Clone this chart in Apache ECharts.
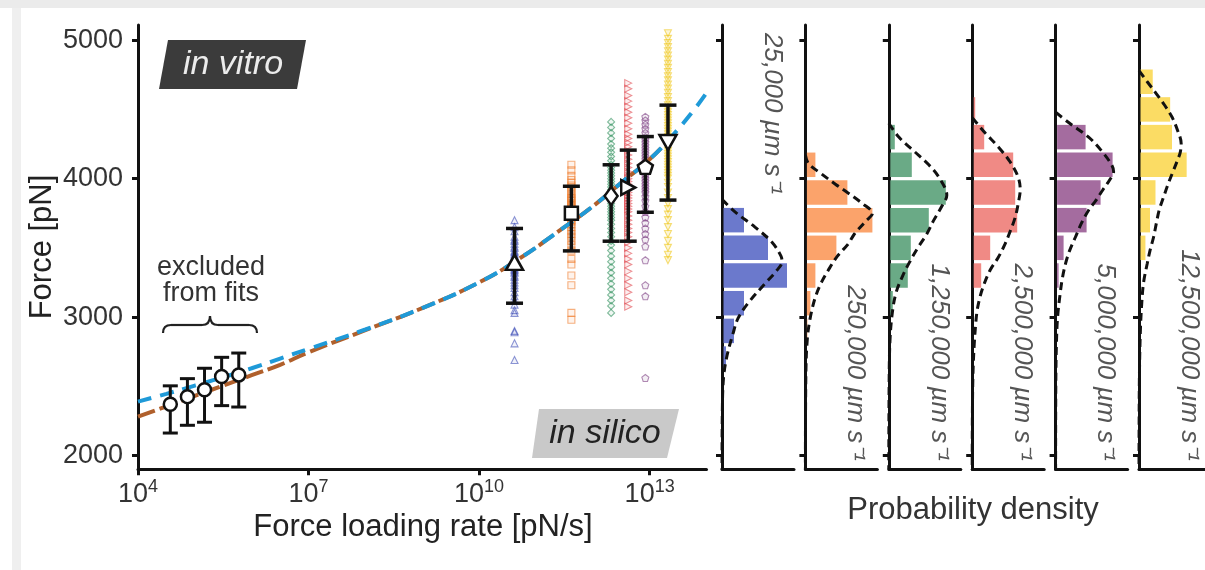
<!DOCTYPE html>
<html>
<head>
<meta charset="utf-8">
<script src="https://cdn.jsdelivr.net/npm/echarts@6/dist/echarts.min.js"></script>
<style>
  html, body { margin: 0; padding: 0; background: #fff; }
  #chart { width: 1205px; height: 570px; }
</style>
</head>
<body>
<div id="chart"></div>
<script>
// ---------- data ----------
const speedLabels = ['25,000 µm s⁻¹', '250,000 µm s⁻¹', '1,250,000 µm s⁻¹',
                     '2,500,000 µm s⁻¹', '5,000,000 µm s⁻¹', '12,500,000 µm s⁻¹'];

// in silico: loading rate [pN/s], mean force and error-bar limits [pN]
const siliconRates = [4.2e10, 4.2e11, 2.1e12, 4.2e12, 8.4e12, 2.1e13];
const siliconMean  = [3395, 3750, 3875, 3936, 4085, 4261];
const siliconLow   = [3100, 3478, 3548, 3548, 3757, 3845];
const siliconHigh  = [3640, 3945, 4100, 4206, 4304, 4531];

// in vitro (excluded from fits)
const vitroRates = [3.7e4, 7.4e4, 1.48e5, 2.96e5, 5.92e5];
const vitroMean  = [2370, 2425, 2475, 2570, 2582];
const vitroLow   = [2162, 2218, 2240, 2360, 2350];
const vitroHigh  = [2503, 2555, 2630, 2709, 2740];

// individual rupture forces [pN] per pulling speed
const forces25k = [3700, 3650, 3620, 3580, 3560, 3550, 3530, 3510, 3500, 3480, 3470, 3460, 3450,
  3440, 3430, 3420, 3400, 3390, 3380, 3370, 3360, 3350, 3340, 3330, 3320, 3300, 3290, 3270,
  3250, 3230, 3210, 3180, 3150, 3120, 3090, 3050, 3030, 2900, 2890, 2810, 2690];
const forces250k = [4100, 4060, 4020, 3990, 3970, 3950, 3930, 3910, 3890, 3870, 3860, 3850, 3840,
  3820, 3810, 3800, 3790, 3780, 3770, 3760, 3750, 3740, 3730, 3720, 3700, 3690, 3670, 3650,
  3620, 3600, 3580, 3550, 3520, 3480, 3420, 3380, 3300, 3230, 3030, 2980];
const forces1250k = [4410, 4370, 4330, 4290, 4250, 4220, 4190, 4160, 4130, 4100, 4080, 4060, 4040,
  4020, 4000, 3980, 3960, 3940, 3920, 3900, 3880, 3860, 3840, 3820, 3800, 3780, 3760, 3740,
  3720, 3700, 3670, 3640, 3610, 3580, 3550, 3520, 3480, 3440, 3400, 3360, 3320, 3280, 3240,
  3200, 3160, 3120, 3080, 3030];
const forces2500k = [4690, 4650, 4600, 4560, 4520, 4480, 4440, 4400, 4360, 4320, 4290, 4260, 4230,
  4200, 4170, 4140, 4110, 4080, 4050, 4020, 4000, 3980, 3960, 3940, 3920, 3900, 3880, 3860,
  3840, 3820, 3800, 3780, 3760, 3730, 3700, 3670, 3640, 3610, 3580, 3540, 3500, 3460, 3420,
  3380, 3330, 3280, 3230, 3180, 3120, 3075];
const forces5000k = [4446, 4420, 4390, 4360, 4330, 4300, 4280, 4260, 4240, 4220, 4200, 4180, 4160,
  4140, 4120, 4100, 4080, 4060, 4040, 4020, 4000, 3980, 3960, 3940, 3920, 3900, 3870, 3840,
  3800, 3760, 3720, 3680, 3640, 3600, 3560, 3510, 3410, 3230, 3150, 2560];
const forces12500k = [5050, 5010, 4980, 4950, 4920, 4890, 4860, 4830, 4800, 4770, 4740, 4710, 4680,
  4650, 4620, 4590, 4560, 4530, 4500, 4480, 4460, 4440, 4420, 4400, 4380, 4360, 4340, 4320,
  4300, 4280, 4260, 4240, 4220, 4200, 4180, 4160, 4140, 4120, 4100, 4080, 4060, 4040, 4020,
  4000, 3970, 3940, 3900, 3860, 3820, 3780, 3740, 3700, 3650, 3600, 3550, 3500, 3450, 3411];
const forceGroups = [forces25k, forces250k, forces1250k, forces2500k, forces5000k, forces12500k];

// model fits: loading rate [pN/s] and force [pN]
const fitRates = [1e4, 3.16e4, 1e5, 3.16e5, 1e6, 3.16e6, 1e7, 1e8, 1e9, 1e10, 5e10, 3.16e11,
                  1e12, 3.16e12, 1e13, 2.5e13, 5.6e13, 1e14];
const fitBlueForce  = [2389, 2445, 2505, 2565, 2630, 2700, 2770, 2910, 3065, 3250, 3420, 3650,
                       3800, 3970, 4140, 4310, 4480, 4620];
const fitBrownForce = [2280, 2355, 2430, 2505, 2580, 2655, 2745, 2905, 3065, 3250, 3420, 3650,
                       3800, 3970, 4140, 4310];

// histograms: lower bin edges [pN], bin width 200 pN, densities (arb. units)
const binLower = [2600, 2800, 3000, 3200, 3400, 3600, 3800, 4000, 4200, 4400, 4600];
const binWidth = 200;
const hist25k    = [4, 12, 22, 65, 46, 22, 0, 0, 0, 0, 0];
const hist250k   = [0, 2, 5, 10, 31, 67, 42, 10, 0, 0, 0];
const hist1250k  = [0, 0, 4, 19, 22, 40, 57, 23, 6, 0, 0];
const hist2500k  = [0, 0, 0, 9, 18, 45, 43, 41, 12, 3, 0];
const hist5000k  = [0, 0, 0, 3, 8, 31, 45, 57, 30, 0, 0];
const hist12500k = [0, 0, 0, 0, 7, 12, 18, 52, 36, 34, 15];
const histGroups = [hist25k, hist250k, hist1250k, hist2500k, hist5000k, hist12500k];

// fitted distributions: [force, density] pairs
const dens25k = [[3850,0],[3760,13],[3650,33],[3540,50],[3440,59],[3400,60],[3330,54],[3250,44],
  [3100,26],[2990,16],[2880,11],[2720,5],[2560,1.5],[2300,0.3],[1900,0]];
const dens250k = [[4170,0],[4110,3],[4040,15],[3960,30],[3900,42],[3820,57],[3750,67],[3690,60],
  [3600,49],[3530,43],[3440,32],[3340,23],[3250,16],[3145,10],[3000,5],[2850,2],[2600,0.5],[1900,0]];
const dens1250k = [[4400,0],[4300,10],[4200,25],[4100,40],[4000,51],[3880,58],[3800,53],[3700,45],
  [3600,38],[3500,29],[3400,21],[3300,14],[3170,7],[3000,3],[2800,1],[2500,0.3],[1900,0]];
const dens2500k = [[4440,0],[4330,13],[4230,26],[4120,38],[4010,46],[3920,48],[3820,46],[3720,43],
  [3620,38],[3530,33],[3430,26],[3340,18],[3240,12],[3150,8],[3050,5],[2950,3.5],[2800,2],
  [2600,0.8],[2300,0.2],[1900,0]];
const dens5000k = [[4480,0],[4400,14],[4300,33],[4200,46],[4100,56],[4050,58],[3990,54],[3916,47],
  [3840,40],[3772,33],[3680,26],[3580,20],[3480,14],[3388,10],[3290,7],[3195,5],[3000,2],
  [2800,0.8],[2500,0.2],[1900,0]];
const dens12500k = [[4780,0],[4700,9],[4613,19],[4530,28],[4445,36],[4350,42],[4254,46],[4190,45],
  [4133,42],[4050,37],[3965,32],[3870,27],[3772,22],[3680,19],[3580,16],[3480,12],[3387,9],
  [3250,5],[3100,3],[2900,1.5],[2600,0.5],[2200,0.1],[1900,0]];
const densGroups = [dens25k, dens250k, dens1250k, dens2500k, dens5000k, dens12500k];

const forceTicks = [2000, 3000, 4000, 5000];
const rateTicks = [1e4, 1e7, 1e10, 1e13];

// ---------- styling ----------
const FONT = 'Liberation Sans, Arial, Helvetica, sans-serif';
const INK = '#111';
const pointColors = ['#3f4fb8', '#f07f2e', '#2f8f5b', '#e0474f', '#7d3d82', '#f0c81e'];
const pointFills = ['rgba(63,79,184,0.12)', 'rgba(240,127,46,0.15)', 'rgba(47,143,91,0.12)',
                    'rgba(224,71,79,0.15)', 'rgba(125,61,130,0.15)', 'rgba(240,200,30,0.3)'];
const barColors = ['#6b79cc', '#fba36b', '#6aaa86', '#f08a85', '#a46c9f', '#fbdc64'];
const pentagon = 'path://M0,-10 L9.51,-3.09 L5.88,8.09 L-5.88,8.09 L-9.51,-3.09 Z';
const markerShapes = [
  { symbol: 'triangle', size: [17, 15], rotate: 0 },
  { symbol: 'rect', size: [13, 13], rotate: 0 },
  { symbol: 'diamond', size: [13, 18], rotate: 0 },
  { symbol: 'triangle', size: [15, 14], rotate: -90 },
  { symbol: pentagon, size: [15, 14], rotate: 0 },
  { symbol: 'triangle', size: [17, 15], rotate: 180 }
];

const F_MIN = 1900, F_MAX = 5110;
const GRID_TOP = 25, GRID_BOTTOM = 100.7;
const PANEL_X0 = 722, PANEL_STEP = 83.4, PANEL_W = 72;

// ---------- helpers ----------
function errorBars(capHalf, lineW) {
  return function (params, api) {
    const x = api.value(0);
    const top = api.coord([x, api.value(2)]);
    const bot = api.coord([x, api.value(1)]);
    const style = { stroke: INK, lineWidth: lineW };
    return {
      type: 'group',
      children: [
        { type: 'line', shape: { x1: top[0], y1: top[1], x2: bot[0], y2: bot[1] }, style },
        { type: 'line', shape: { x1: top[0] - capHalf, y1: top[1], x2: top[0] + capHalf, y2: top[1] }, style },
        { type: 'line', shape: { x1: bot[0] - capHalf, y1: bot[1], x2: bot[0] + capHalf, y2: bot[1] }, style }
      ]
    };
  };
}

function histBar(params, api) {
  const lo = api.value(0), hi = api.value(1), len = api.value(2);
  if (!len) return null;
  const a = api.coord([0, hi]);
  const b = api.coord([len, lo]);
  return {
    type: 'rect',
    shape: { x: a[0] + 1.5, y: a[1] + 1.6, width: b[0] - a[0] - 1.5, height: b[1] - a[1] - 3.2 },
    style: { fill: api.visual('color') }
  };
}

// ---------- grids and axes ----------
const grids = [{ left: 138, right: 1205 - 706.5, top: GRID_TOP, bottom: GRID_BOTTOM }];
const xAxes = [{
  type: 'log', logBase: 10, min: 1e4, max: 1e14, gridIndex: 0,
  axisLine: { lineStyle: { color: INK, width: 3 } },
  axisTick: { customValues: rateTicks, length: 6, lineStyle: { color: INK, width: 3 } },
  axisLabel: {
    customValues: rateTicks, margin: 9,
    formatter: v => '{b|10}{s|' + Math.round(Math.log10(v)) + '}',
    rich: {
      b: { fontFamily: FONT, fontSize: 27, color: '#333', lineHeight: 32 },
      s: { fontFamily: FONT, fontSize: 18, color: '#333', verticalAlign: 'top', lineHeight: 18 }
    }
  },
  splitLine: { show: false }, minorTick: { show: false }
}];
const yAxes = [{
  type: 'value', min: F_MIN, max: F_MAX, gridIndex: 0,
  axisLine: { show: true, lineStyle: { color: INK, width: 3 } },
  axisTick: { show: true, customValues: forceTicks, length: 6, lineStyle: { color: INK, width: 3 } },
  axisLabel: { customValues: forceTicks, margin: 15, fontFamily: FONT, fontSize: 27, color: '#333',
               formatter: v => String(v) },
  splitLine: { show: false }
}];

for (let i = 0; i < 6; i++) {
  const left = PANEL_X0 + i * PANEL_STEP;
  grids.push({ left: left, width: PANEL_W, top: GRID_TOP, bottom: GRID_BOTTOM });
  xAxes.push({
    type: 'value', min: 0, max: 72, gridIndex: i + 1,
    axisLine: { show: true, lineStyle: { color: INK, width: 3 } },
    axisTick: { show: false }, axisLabel: { show: false }, splitLine: { show: false }
  });
  yAxes.push({
    type: 'value', min: F_MIN, max: F_MAX, gridIndex: i + 1,
    axisLine: { show: true, lineStyle: { color: INK, width: 3 } },
    axisTick: { show: true, customValues: forceTicks, length: 6, lineStyle: { color: INK, width: 3 } },
    axisLabel: { show: false }, splitLine: { show: false }
  });
}

// ---------- series ----------
const series = [];

// individual rupture events
forceGroups.forEach((forces, i) => {
  series.push({
    type: 'scatter', xAxisIndex: 0, yAxisIndex: 0, z: 2,
    symbol: markerShapes[i].symbol, symbolSize: 7, symbolRotate: markerShapes[i].rotate,
    itemStyle: { color: pointFills[i], borderColor: pointColors[i], borderWidth: 1.1, opacity: 0.6 },
    data: forces.map(f => [siliconRates[i], f]),
    silent: true
  });
});

// fitted loading-rate dependence
series.push({
  type: 'line', xAxisIndex: 0, yAxisIndex: 0, z: 3, smooth: true, symbol: 'none',
  lineStyle: { color: '#b0602c', width: 4, type: [18, 5] },
  data: fitBrownForce.map((f, i) => [fitRates[i], f])
});
series.push({
  type: 'line', xAxisIndex: 0, yAxisIndex: 0, z: 3, smooth: true, symbol: 'none',
  lineStyle: { color: '#1f9ad8', width: 4, type: [14, 9] },
  data: fitBlueForce.map((f, i) => [fitRates[i], f])
});

// error bars
series.push({
  type: 'custom', xAxisIndex: 0, yAxisIndex: 0, z: 4,
  renderItem: errorBars(7.5, 3),
  encode: { x: 0, y: [1, 2] },
  data: vitroRates.map((r, i) => [r, vitroLow[i], vitroHigh[i]])
});
series.push({
  type: 'custom', xAxisIndex: 0, yAxisIndex: 0, z: 4,
  renderItem: errorBars(8.5, 3.5),
  encode: { x: 0, y: [1, 2] },
  data: siliconRates.map((r, i) => [r, siliconLow[i], siliconHigh[i]])
});

// means
series.push({
  type: 'scatter', xAxisIndex: 0, yAxisIndex: 0, z: 5,
  symbol: 'circle', symbolSize: 13,
  itemStyle: { color: '#fff', borderColor: INK, borderWidth: 2.5, opacity: 1 },
  data: vitroRates.map((r, i) => [r, vitroMean[i]])
});
series.push({
  type: 'scatter', xAxisIndex: 0, yAxisIndex: 0, z: 5,
  itemStyle: { color: '#fff', borderColor: INK, borderWidth: 2.5, opacity: 1 },
  data: siliconRates.map((r, i) => ({
    value: [r, siliconMean[i]],
    symbol: markerShapes[i].symbol,
    symbolSize: markerShapes[i].size,
    symbolRotate: markerShapes[i].rotate
  }))
});

// histograms with fitted densities
histGroups.forEach((hist, i) => {
  series.push({
    type: 'custom', xAxisIndex: i + 1, yAxisIndex: i + 1, z: 2,
    renderItem: histBar,
    itemStyle: { color: barColors[i] },
    encode: { x: 2, y: [0, 1] },
    data: hist.map((d, k) => [binLower[k], binLower[k] + binWidth, d])
  });
  series.push({
    type: 'line', xAxisIndex: i + 1, yAxisIndex: i + 1, z: 3, smooth: 0.35, symbol: 'none',
    lineStyle: { color: INK, width: 3, type: [8, 5] },
    data: densGroups[i].map(p => [p[1], p[0]])
  });
});

// ---------- texts and annotations ----------
const textBase = { fontFamily: FONT };
const braceStyle = { fill: 'none', stroke: '#222', lineWidth: 2.2 };
const graphic = [
  { type: 'rect', z: -10, shape: { x: 0, y: 0, width: 1205, height: 8 }, style: { fill: '#ebebeb' } },
  { type: 'rect', z: -10, shape: { x: 12, y: 8, width: 9, height: 562 }, style: { fill: '#efefef' } },
  { type: 'polygon', shape: { points: [[168, 40], [306, 40], [297, 89], [159, 89]] }, style: { fill: '#3b3b3b' } },
  { type: 'text', x: 233, y: 65, style: Object.assign({}, textBase, { text: 'in vitro', fontSize: 34, fontStyle: 'italic', fill: '#ececec', align: 'center', verticalAlign: 'middle' }) },
  { type: 'polygon', shape: { points: [[539, 409], [679, 409], [667, 458], [532, 458]] }, style: { fill: '#c9c9c9' } },
  { type: 'text', x: 605, y: 434, style: Object.assign({}, textBase, { text: 'in silico', fontSize: 34, fontStyle: 'italic', fill: '#222', align: 'center', verticalAlign: 'middle' }) },
  { type: 'text', x: 211, y: 268, style: Object.assign({}, textBase, { text: 'excluded', fontSize: 27, fill: '#333', align: 'center', verticalAlign: 'middle' }) },
  { type: 'text', x: 211, y: 294, style: Object.assign({}, textBase, { text: 'from fits', fontSize: 27, fill: '#333', align: 'center', verticalAlign: 'middle' }) },
  // curly brace over the excluded points
  { type: 'bezierCurve', shape: { x1: 163, y1: 333, cpx1: 163, cpy1: 325, x2: 171, y2: 325 }, style: braceStyle },
  { type: 'line', shape: { x1: 171, y1: 325, x2: 202, y2: 325 }, style: braceStyle },
  { type: 'bezierCurve', shape: { x1: 202, y1: 325, cpx1: 210, cpy1: 325, x2: 210, y2: 316 }, style: braceStyle },
  { type: 'bezierCurve', shape: { x1: 210, y1: 316, cpx1: 210, cpy1: 325, x2: 218, y2: 325 }, style: braceStyle },
  { type: 'line', shape: { x1: 218, y1: 325, x2: 249, y2: 325 }, style: braceStyle },
  { type: 'bezierCurve', shape: { x1: 249, y1: 325, cpx1: 257, cpy1: 325, x2: 257, y2: 333 }, style: braceStyle },
  { type: 'text', x: 42, y: 247, rotation: Math.PI / 2, style: Object.assign({}, textBase, { text: 'Force [pN]', fontSize: 31, fill: '#222', align: 'center', verticalAlign: 'middle' }) },
  { type: 'text', x: 423, y: 527, style: Object.assign({}, textBase, { text: 'Force loading rate [pN/s]', fontSize: 31, fill: '#222', align: 'center', verticalAlign: 'middle' }) },
  { type: 'text', x: 973, y: 510, style: Object.assign({}, textBase, { text: 'Probability density', fontSize: 31, fill: '#333', align: 'center', verticalAlign: 'middle' }) }
];
speedLabels.forEach((label, i) => {
  const x = PANEL_X0 + i * PANEL_STEP + 50;
  graphic.push({
    type: 'text', x: x, y: i === 0 ? 33 : 461, rotation: -Math.PI / 2,
    style: Object.assign({}, textBase, {
      text: label, fontSize: 26, fontStyle: 'italic', fill: '#555',
      align: i === 0 ? 'left' : 'right', verticalAlign: 'middle'
    })
  });
});

const chart = echarts.init(document.getElementById('chart'), null, { renderer: 'canvas' });
chart.setOption({
  animation: false,
  backgroundColor: '#fff',
  grid: grids,
  xAxis: xAxes,
  yAxis: yAxes,
  series: series,
  graphic: graphic
});
</script>
</body>
</html>
